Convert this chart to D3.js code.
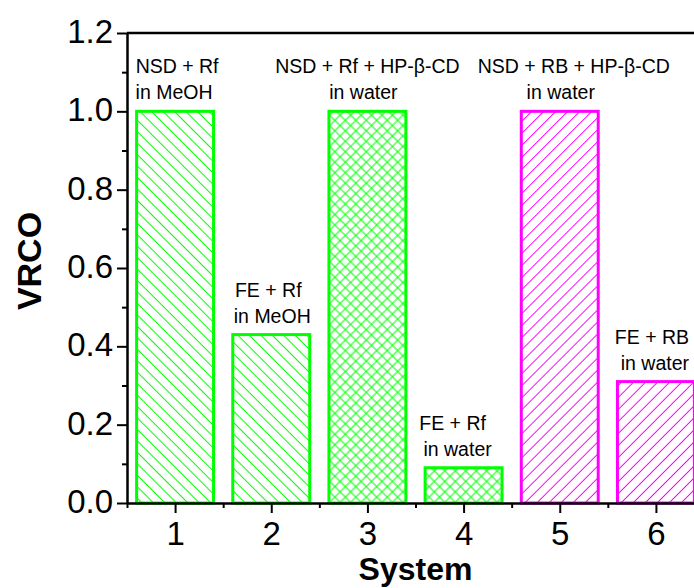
<!DOCTYPE html>
<html>
<head>
<meta charset="utf-8">
<script src="https://cdn.jsdelivr.net/npm/d3@7"></script>
<style>
  html, body { margin: 0; padding: 0; background: #fff; }
  svg { display: block; }
  text { font-family: "Liberation Sans", Arial, sans-serif; fill: #000; }
</style>
</head>
<body>
<svg id="chart" width="694" height="588"></svg>
<script>
// VRCO for each system
const systems = [1, 2, 3, 4, 5, 6];
const vrco = [1.0, 0.43, 1.0, 0.09, 1.0, 0.31];
const labelTop = ["NSD + Rf", "FE + Rf", "NSD + Rf + HP-\u03B2-CD", "FE + Rf", "NSD + RB + HP-\u03B2-CD", "FE + RB"];
const labelBottom = ["in MeOH", "in MeOH", "in water", "in water", "in water", "in water"];
const fillStyle = ["back", "back", "cross", "cross", "fwd", "fwd"];
const dye = ["Rf", "Rf", "Rf", "Rf", "RB", "RB"];

// axis ticks
const yTicks = [0.0, 0.2, 0.4, 0.6, 0.8, 1.0, 1.2];
const yMinor = [0.1, 0.3, 0.5, 0.7, 0.9, 1.1];
const xTicks = [1, 2, 3, 4, 5, 6];
const xMinor = [0.5, 1.5, 2.5, 3.5, 4.5, 5.5, 6.5];

// layout
const dyeColor = { Rf: "#00ff00", RB: "#ff00ff" };
const labelShift = [[2, -1], [-3, 1], [0, -4], [-11, -6], [14, 1], [-4, -1]];
const plotLeft = 127, plotRight = 704, plotTop = 33, plotBottom = 503;

const svg = d3.select("#chart");
const x = d3.scaleLinear().domain([0.5, 6.5]).range([plotLeft, plotRight]);
const y = d3.scaleLinear().domain([0, 1.2]).range([plotBottom, plotTop]);
const unit = x(2) - x(1);
const barW = unit * 0.8;

// hatch patterns
const defs = svg.append("defs");
function hatch(id, color, spacing, angle, cross) {
  const p = defs.append("pattern")
    .attr("id", id)
    .attr("patternUnits", "userSpaceOnUse")
    .attr("width", spacing)
    .attr("height", spacing)
    .attr("patternTransform", `rotate(${angle})`);
  p.append("line")
    .attr("x1", spacing / 2).attr("y1", -1)
    .attr("x2", spacing / 2).attr("y2", spacing + 1)
    .attr("stroke", color).attr("stroke-width", 1);
  if (cross) {
    p.append("line")
      .attr("x1", -1).attr("y1", spacing / 2)
      .attr("x2", spacing + 1).attr("y2", spacing / 2)
      .attr("stroke", color).attr("stroke-width", 1);
  }
}
hatch("hatch-back", dyeColor.Rf, 8.1, -45, false);
hatch("hatch-cross", dyeColor.Rf, 7.4, 45, true);
hatch("hatch-fwd", dyeColor.RB, 8.5, 45, false);

const data = systems.map((s, i) => ({
  s, v: vrco[i], t1: labelTop[i], t2: labelBottom[i],
  fill: fillStyle[i], color: dyeColor[dye[i]], shift: labelShift[i]
}));

// bars
svg.append("g").selectAll("rect")
  .data(data)
  .join("rect")
  .attr("x", d => x(d.s) - barW / 2)
  .attr("y", d => y(d.v))
  .attr("width", barW)
  .attr("height", d => y(0) - y(d.v))
  .attr("fill", d => `url(#hatch-${d.fill})`)
  .attr("stroke", d => d.color)
  .attr("stroke-width", 3);

// bar annotations
const ann = svg.append("g").attr("font-size", 19.5).attr("text-anchor", "middle");
ann.selectAll("text.l1")
  .data(data).join("text").attr("class", "l1")
  .attr("x", d => x(d.s) + d.shift[0])
  .attr("y", d => y(d.v) - 38)
  .text(d => d.t1);
ann.selectAll("text.l2")
  .data(data).join("text").attr("class", "l2")
  .attr("x", d => x(d.s) + d.shift[1])
  .attr("y", d => y(d.v) - 12)
  .text(d => d.t2);

// top frame line
svg.append("line")
  .attr("x1", plotLeft).attr("x2", plotRight)
  .attr("y1", plotTop).attr("y2", plotTop)
  .attr("stroke", "#000").attr("stroke-width", 2.5);

// y axis
const yAxis = svg.append("g")
  .attr("transform", `translate(${plotLeft},0)`)
  .call(d3.axisLeft(y).tickValues(yTicks).tickFormat(d3.format(".1f")).tickSize(10).tickSizeOuter(0).tickPadding(4));
yAxis.selectAll("text").attr("font-size", 33).attr("font-family", "Liberation Sans, Arial, sans-serif").attr("dy", "0.29em");
svg.append("g")
  .attr("transform", `translate(${plotLeft},0)`)
  .call(d3.axisLeft(y).tickValues(yMinor).tickFormat("").tickSize(5).tickSizeOuter(0))
  .select(".domain").remove();

// x axis
const xAxis = svg.append("g")
  .attr("transform", `translate(0,${plotBottom})`)
  .call(d3.axisBottom(x).tickValues(xTicks).tickFormat(d3.format("d")).tickSize(10).tickSizeOuter(0));
xAxis.selectAll("text").attr("font-size", 33).attr("font-family", "Liberation Sans, Arial, sans-serif")
  .attr("y", 19).attr("dy", "0.71em");
svg.append("g")
  .attr("transform", `translate(0,${plotBottom})`)
  .call(d3.axisBottom(x).tickValues(xMinor).tickFormat("").tickSize(5).tickSizeOuter(0))
  .select(".domain").remove();

svg.selectAll(".domain").attr("stroke-width", 2.5);
svg.selectAll(".tick line").attr("stroke-width", 2);

// axis titles
svg.append("text")
  .attr("x", (plotLeft + plotRight) / 2).attr("y", 580)
  .attr("text-anchor", "middle").attr("font-size", 32).attr("font-weight", "bold")
  .text("System");
svg.append("text")
  .attr("transform", "translate(41,261) rotate(-90)")
  .attr("text-anchor", "middle").attr("font-size", 34).attr("font-weight", "bold")
  .text("VRCO");
</script>
</body>
</html>
